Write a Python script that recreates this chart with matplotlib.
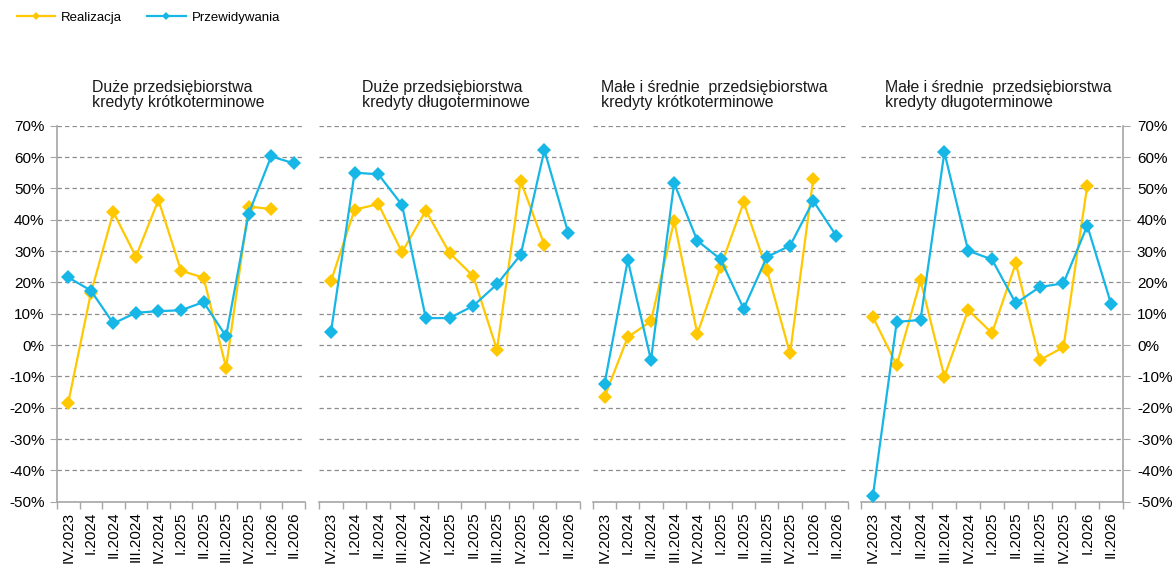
import matplotlib
matplotlib.use('Agg')
import matplotlib.pyplot as plt
from matplotlib.lines import Line2D
from matplotlib.ticker import FixedLocator, FuncFormatter
import numpy as np

plt.rcParams['font.family'] = ['Liberation Sans', 'DejaVu Sans']

quarters = ['IV.2023', 'I.2024', 'II.2024', 'III.2024', 'IV.2024', 'I.2025',
            'II.2025', 'III.2025', 'IV.2025', 'I.2026', 'II.2026']

title_line1 = ['Duże przedsiębiorstwa', 'Duże przedsiębiorstwa',
               'Małe i średnie  przedsiębiorstwa', 'Małe i średnie  przedsiębiorstwa']
title_line2 = ['kredyty krótkoterminowe', 'kredyty długoterminowe',
               'kredyty krótkoterminowe', 'kredyty długoterminowe']

nan = np.nan
real_dp_short = [-18.4, 16.5, 42.4, 28.2, 46.3, 23.7, 21.5, -7.2, 44.2, 43.4, nan]
pred_dp_short = [21.6, 17.4, 6.9, 10.3, 10.8, 11.1, 13.7, 2.8, 41.9, 60.2, 58.0]

real_dp_long = [20.3, 43.2, 45.0, 29.6, 42.9, 29.4, 22.0, -1.5, 52.3, 32.0, nan]
pred_dp_long = [4.0, 55.0, 54.5, 44.7, 8.6, 8.6, 12.5, 19.4, 28.8, 62.2, 35.9]

real_msp_short = [-16.5, 2.5, 7.6, 39.6, 3.6, 24.9, 45.5, 24.0, -2.7, 53.0, nan]
pred_msp_short = [-12.3, 27.1, -4.8, 51.7, 33.3, 27.4, 11.6, 28.1, 31.7, 46.0, 34.8]

real_msp_long = [8.9, -6.4, 20.6, -10.1, 11.2, 3.8, 26.1, -4.8, -0.7, 50.9, nan]
pred_msp_long = [-48.1, 7.4, 8.0, 61.5, 30.1, 27.3, 13.3, 18.5, 19.7, 38.1, 13.1]

realizacja = [real_dp_short, real_dp_long, real_msp_short, real_msp_long]
przewidywania = [pred_dp_short, pred_dp_long, pred_msp_short, pred_msp_long]

yticks = list(range(-50, 71, 10))

YELLOW = '#FFC800'
BLUE = '#16B6E6'
GRID = '#8C8C8C'
SPINE = '#A6A6A6'

W, H = 1175, 565
fig = plt.figure(figsize=(W / 100, H / 100), dpi=100)

ytop, ybot = 125.7, 501.7
panels_x = [(57, 305), (319, 580), (593, 848), (861, 1123)]
title_x = [91.5, 362.5, 601, 885]

for i, (x0, x1) in enumerate(panels_x):
    ax = fig.add_axes([x0 / W, 1 - ybot / H, (x1 - x0) / W, (ybot - ytop) / H])
    x = np.arange(len(quarters))
    ax.plot(x, realizacja[i], color=YELLOW, lw=1.6, marker='D', ms=7.2,
            markeredgewidth=0, zorder=3)
    ax.plot(x, przewidywania[i], color=BLUE, lw=1.6, marker='D', ms=7.2,
            markeredgewidth=0, zorder=4)
    ax.set_xlim(-0.5, len(quarters) - 0.5)
    ax.set_ylim(-50, 70)
    ax.set_yticks(yticks)
    ax.yaxis.set_major_formatter(FuncFormatter(lambda v, p: f'{v:.0f}%'))
    ax.grid(axis='y', color=GRID, linestyle=(0, (3.5, 2.5)), linewidth=0.9)
    ax.set_axisbelow(True)
    ax.set_xticks(x)
    ax.set_xticklabels(quarters, rotation=90, fontsize=11)
    ax.xaxis.set_minor_locator(FixedLocator(np.arange(-0.5, len(quarters), 1.0)))
    ax.tick_params(axis='x', which='major', length=0, pad=7)
    ax.tick_params(axis='x', which='minor', length=5, color=SPINE, width=1)
    for s in ['top', 'left', 'right']:
        ax.spines[s].set_visible(False)
    ax.spines['bottom'].set_color(SPINE)
    ax.spines['bottom'].set_linewidth(1.2)
    if i == 0:
        ax.spines['left'].set_visible(True)
        ax.spines['left'].set_color(SPINE)
        ax.spines['left'].set_linewidth(1.2)
        ax.tick_params(axis='y', length=5, color=SPINE, labelsize=11, pad=4)
    elif i == 3:
        ax.spines['right'].set_visible(True)
        ax.spines['right'].set_color(SPINE)
        ax.spines['right'].set_linewidth(1.2)
        ax.yaxis.tick_right()
        ax.tick_params(axis='y', length=5, color=SPINE, labelsize=11, pad=5)
    else:
        ax.tick_params(axis='y', left=False, labelleft=False)
    fig.text(title_x[i] / W, 1 - 92 / H, title_line1[i], fontsize=11.45,
             ha='left', va='baseline', color='#1a1a1a')
    fig.text(title_x[i] / W, 1 - 107 / H, title_line2[i], fontsize=11.45,
             ha='left', va='baseline', color='#1a1a1a')

handles = [Line2D([], [], color=YELLOW, lw=1.6, marker='D', ms=4, markeredgewidth=0),
           Line2D([], [], color=BLUE, lw=1.6, marker='D', ms=4, markeredgewidth=0)]
fig.legend(handles, ['Realizacja', 'Przewidywania'], ncol=2, frameon=False,
           loc='center left', bbox_to_anchor=(17 / W, 1 - 18 / H),
           borderaxespad=0, borderpad=0, fontsize=9.5, handlelength=2.9,
           handletextpad=0.45, columnspacing=1.9)

fig.savefig('out.png', dpi=100)
